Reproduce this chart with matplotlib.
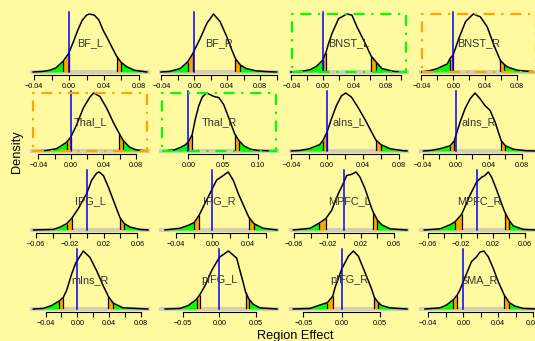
import numpy as np
import matplotlib.pyplot as plt
from matplotlib.patches import Rectangle

plt.rcParams['font.family'] = ['Liberation Sans', 'DejaVu Sans']

regions = ["BF_L", "BF_R", "BNST_L", "BNST_R",
           "Thal_L", "Thal_R", "aIns_L", "aIns_R",
           "IPG_L", "IPG_R", "MPFC_L", "MPFC_R",
           "mIns_R", "pIFG_L", "pIFG_R", "SMA_R"]

# posterior densities: effect values and height relative to the peak
dens_x = {
    "BF_L": [-0.041, -0.030, -0.022, -0.015, -0.0065, -0.0004, 0.005, 0.010, 0.015, 0.020, 0.0235,
             0.029, 0.034, 0.039, 0.045, 0.050, 0.0545, 0.0594, 0.066, 0.075, 0.089],
    "BF_R": [-0.0405, -0.030, -0.017, -0.0078, -0.0022, 0.0072, 0.0153, 0.0233, 0.0313, 0.0394,
             0.045, 0.050, 0.056, 0.063, 0.075, 0.090, 0.100],
    "BNST_L": [-0.0405, -0.028, -0.016, -0.008, -0.0004, 0.0038, 0.007, 0.0115, 0.020, 0.0306,
               0.037, 0.0433, 0.0518, 0.0616, 0.068, 0.075, 0.090, 0.106],
    "BNST_R": [-0.0395, -0.030, -0.020, -0.0075, -0.0042, 0.0, 0.007, 0.0154, 0.025, 0.034,
               0.0425, 0.051, 0.059, 0.064, 0.0675, 0.080, 0.104],
    "Thal_L": [-0.046, -0.030, -0.0177, -0.0053, 0.0, 0.007, 0.0152, 0.0234, 0.028, 0.0358,
               0.044, 0.052, 0.0596, 0.0645, 0.072, 0.080, 0.094],
    "Thal_R": [-0.036, -0.020, -0.010, -0.004, 0.0, 0.0054, 0.010, 0.015, 0.020, 0.026, 0.030,
               0.037, 0.044, 0.051, 0.058, 0.0667, 0.073, 0.080, 0.090, 0.100, 0.127],
    "aIns_L": [-0.040, -0.030, -0.0197, -0.0084, -0.0047, 0.0, 0.0047, 0.0103, 0.016, 0.0208,
               0.0272, 0.0347, 0.0422, 0.0497, 0.0546, 0.0603, 0.0704, 0.085, 0.0895],
    "aIns_R": [-0.039, -0.030, -0.019, -0.0069, -0.002, 0.0, 0.0053, 0.0113, 0.0174, 0.0234,
               0.0295, 0.0356, 0.0416, 0.0477, 0.055, 0.0602, 0.070, 0.085, 0.098],
    "IPG_L": [-0.063, -0.0395, -0.0316, -0.0237, -0.0178, -0.0099, 0.0, 0.0059, 0.0118, 0.0146,
              0.0197, 0.0257, 0.0316, 0.0395, 0.0446, 0.0513, 0.063, 0.0726],
    "IPG_R": [-0.0526, -0.036, -0.0267, -0.020, -0.0144, -0.0081, 0.0, 0.0048, 0.0104, 0.0178,
              0.0233, 0.0289, 0.0363, 0.0407, 0.0463, 0.0567, 0.072],
    "MPFC_L": [-0.061, -0.041, -0.0298, -0.0218, -0.0149, -0.0068, 0.0, 0.0032, 0.0093, 0.0145,
               0.0193, 0.0254, 0.0334, 0.0355, 0.0403, 0.0455, 0.0556, 0.076],
    "MPFC_R": [-0.065, -0.0455, -0.033, -0.0269, -0.0186, -0.0083, 0.0, 0.0062, 0.0103, 0.0145,
               0.0186, 0.0248, 0.0331, 0.0352, 0.0405, 0.0455, 0.058, 0.0748],
    "mIns_R": [-0.0556, -0.043, -0.0324, -0.0227, -0.0177, -0.0135, -0.0072, -0.0017, 0.0076,
               0.016, 0.0244, 0.0328, 0.0391, 0.0455, 0.058, 0.089],
    "pIFG_L": [-0.074, -0.0536, -0.0423, -0.0309, -0.0264, -0.0195, -0.0105, 0.0, 0.0123, 0.0236,
               0.0327, 0.0359, 0.0405, 0.0464, 0.0555, 0.0787],
    "pIFG_R": [-0.063, -0.0413, -0.0304, -0.0187, -0.0117, -0.0087, 0.0, 0.0087, 0.0152, 0.0217,
               0.0304, 0.0391, 0.0426, 0.0478, 0.0522, 0.063, 0.0851],
    "SMA_R": [-0.0438, -0.0267, -0.019, -0.0114, -0.0069, -0.0038, 0.0, 0.0038, 0.0095, 0.0152,
              0.019, 0.0236, 0.0286, 0.0343, 0.040, 0.0469, 0.0526, 0.059, 0.0686, 0.0843],
}
dens_h = {
    "BF_L": [0, 0.01, 0.03, 0.07, 0.19, 0.32, 0.52, 0.72, 0.89, 0.98, 1.0,
             0.98, 0.90, 0.72, 0.55, 0.40, 0.27, 0.17, 0.09, 0.03, 0],
    "BF_R": [0, 0.01, 0.06, 0.18, 0.31, 0.58, 0.84, 1.0, 0.87, 0.61,
             0.40, 0.23, 0.12, 0.06, 0.02, 0.005, 0],
    "BNST_L": [0, 0.01, 0.04, 0.10, 0.20, 0.33, 0.48, 0.66, 0.92, 1.0,
               0.98, 0.78, 0.55, 0.27, 0.17, 0.06, 0.01, 0],
    "BNST_R": [0, 0.02, 0.06, 0.14, 0.23, 0.30, 0.58, 0.87, 1.0, 0.95,
               0.78, 0.46, 0.20, 0.13, 0.09, 0.03, 0],
    "Thal_L": [0, 0.01, 0.04, 0.15, 0.245, 0.45, 0.74, 0.93, 1.0, 0.94,
               0.74, 0.50, 0.30, 0.18, 0.07, 0.02, 0],
    "Thal_R": [0, 0.02, 0.07, 0.11, 0.16, 0.28, 0.55, 0.78, 0.93, 1.0, 0.98,
               0.94, 0.92, 0.80, 0.58, 0.30, 0.18, 0.09, 0.03, 0.01, 0],
    "aIns_L": [0, 0.01, 0.04, 0.11, 0.18, 0.33, 0.55, 0.78, 0.95, 1.0,
               0.93, 0.75, 0.55, 0.33, 0.19, 0.11, 0.04, 0.005, 0],
    "aIns_R": [0, 0.01, 0.04, 0.09, 0.17, 0.26, 0.50, 0.73, 0.90, 1.0,
               0.90, 0.78, 0.70, 0.50, 0.18, 0.09, 0.03, 0.005, 0],
    "IPG_L": [0, 0.01, 0.05, 0.11, 0.20, 0.37, 0.63, 0.86, 0.98, 1.0,
              0.94, 0.74, 0.51, 0.21, 0.11, 0.05, 0.01, 0],
    "IPG_R": [0, 0.03, 0.08, 0.13, 0.26, 0.46, 0.71, 0.86, 0.92, 1.0,
              0.86, 0.63, 0.37, 0.22, 0.11, 0.03, 0],
    "MPFC_L": [0, 0.03, 0.12, 0.20, 0.34, 0.63, 0.83, 0.94, 0.96, 1.0,
               0.91, 0.71, 0.37, 0.30, 0.17, 0.09, 0.02, 0],
    "MPFC_R": [0, 0.02, 0.09, 0.14, 0.27, 0.60, 0.83, 0.91, 0.94, 1.0,
               0.91, 0.69, 0.37, 0.30, 0.16, 0.07, 0.01, 0],
    "mIns_R": [0, 0.01, 0.06, 0.14, 0.20, 0.32, 0.60, 0.80, 1.0,
               0.89, 0.66, 0.40, 0.22, 0.10, 0.02, 0],
    "pIFG_L": [0, 0.01, 0.06, 0.17, 0.25, 0.40, 0.66, 0.89, 1.0, 0.88,
               0.45, 0.29, 0.17, 0.08, 0.02, 0],
    "pIFG_R": [0, 0.01, 0.06, 0.11, 0.22, 0.37, 0.69, 0.91, 1.0, 0.91,
               0.63, 0.34, 0.20, 0.11, 0.06, 0.02, 0],
    "SMA_R": [0, 0.02, 0.07, 0.16, 0.24, 0.33, 0.47, 0.61, 0.82, 0.90,
              0.98, 1.0, 0.90, 0.70, 0.47, 0.24, 0.11, 0.05, 0.01, 0],
}
# 2.5%, 5%, 95% and 97.5% quantiles
quant = {
    "BF_L": [-0.0065, -0.0004, 0.0545, 0.0594],
    "BF_R": [-0.0078, -0.0022, 0.050, 0.056],
    "BNST_L": [-0.0004, 0.0038, 0.0616, 0.068],
    "BNST_R": [-0.0042, 0.0, 0.059, 0.064],
    "Thal_L": [-0.0053, 0.0, 0.0596, 0.0645],
    "Thal_R": [0.0, 0.0054, 0.0667, 0.073],
    "aIns_L": [-0.0047, 0.0, 0.0546, 0.0603],
    "aIns_R": [-0.0069, -0.002, 0.055, 0.0602],
    "IPG_L": [-0.0237, -0.0178, 0.0395, 0.0446],
    "IPG_R": [-0.020, -0.0144, 0.0407, 0.0463],
    "MPFC_L": [-0.0298, -0.0218, 0.0355, 0.0403],
    "MPFC_R": [-0.0269, -0.0186, 0.0352, 0.0405],
    "mIns_R": [-0.0227, -0.0177, 0.0391, 0.0455],
    "pIFG_L": [-0.0309, -0.0264, 0.0359, 0.0405],
    "pIFG_R": [-0.0187, -0.0117, 0.0426, 0.0478],
    "SMA_R": [-0.0114, -0.0069, 0.0469, 0.0526],
}
xlims = {
    "BF_L": (-0.0423, 0.0903), "BF_R": (-0.0405, 0.1005), "BNST_L": (-0.0405, 0.107),
    "BNST_R": (-0.0405, 0.105), "Thal_L": (-0.048, 0.095), "Thal_R": (-0.0396, 0.128),
    "aIns_L": (-0.0405, 0.0895), "aIns_R": (-0.0421, 0.0985), "IPG_L": (-0.0648, 0.0726),
    "IPG_R": (-0.057, 0.072), "MPFC_L": (-0.064, 0.076), "MPFC_R": (-0.069, 0.0748),
    "mIns_R": (-0.0572, 0.0893), "pIFG_L": (-0.0795, 0.0787), "pIFG_R": (-0.0661, 0.0851),
    "SMA_R": (-0.0483, 0.0843),
}
ticks_a = [-0.04, -0.02, 0.0, 0.02, 0.04, 0.06, 0.08]
ticks_b = [-0.04, -0.02, 0.0, 0.02, 0.04, 0.06, 0.08, 0.10]
ticks_c = [-0.06, -0.04, -0.02, 0.0, 0.02, 0.04, 0.06]
ticks_d = [-0.05, 0.0, 0.05]
ticks = {
    "BF_L": ticks_a, "BF_R": ticks_b, "BNST_L": ticks_b, "BNST_R": ticks_a,
    "Thal_L": ticks_a, "Thal_R": [0.0, 0.05, 0.10], "aIns_L": ticks_a, "aIns_R": ticks_a,
    "IPG_L": ticks_c, "IPG_R": [-0.04, -0.02, 0.0, 0.02, 0.04, 0.06], "MPFC_L": ticks_c,
    "MPFC_R": ticks_c, "mIns_R": ticks_a, "pIFG_L": ticks_d, "pIFG_R": ticks_d, "SMA_R": ticks_a,
}
box_col = {"BNST_L": "#00ff00", "BNST_R": "#ffa500", "Thal_L": "#ffa500", "Thal_R": "#00ff00"}

bg = "#fffaa0"
green = "#00ff00"
orange = "#ffa500"

W, H = 535, 341
fig = plt.figure(figsize=(W / 100, H / 100), dpi=100, facecolor=bg)

col_left = [32, 161, 291, 421]
row_base = [72, 151, 230, 309]
pw, ph = 116, 58

for i, name in enumerate(regions):
    r, c = divmod(i, 4)
    ax = fig.add_axes([col_left[c] / W, (H - row_base[r]) / H, pw / W, ph / H])
    ax.patch.set_alpha(0)
    x = np.array(dens_x[name])
    h = np.array(dens_h[name])
    lo, hi = xlims[name]

    # grey zero band
    ax.plot([lo, hi], [0, 0], color="#d3d1b0", lw=3, solid_capstyle="projecting",
            zorder=1, clip_on=False)

    idx = [int(np.argmin(np.abs(x - q))) for q in quant[name]]
    parts = [(0, idx[0], green), (idx[0], idx[1], orange),
             (idx[2], idx[3], orange), (idx[3], len(x) - 1, green)]
    for a, b, col in parts:
        ax.fill_between(x[a:b + 1], 0, h[a:b + 1], color=col, lw=0, zorder=2)
    ax.vlines(x[idx], 0, h[idx], color="black", lw=0.9, zorder=3)
    ax.plot(x, h, color="black", lw=1.1, zorder=3, clip_on=False, solid_joinstyle="round")
    ax.plot([0, 0], [0, 1.04], color="#0000ff", lw=1.1, zorder=4, clip_on=False)

    ax.text(0.5, 0.5, name, transform=ax.transAxes, ha="center", va="center",
            fontsize=7.8, color="#333333", zorder=5)

    if name in box_col:
        ax.add_patch(Rectangle((0.012, 0), 0.976, 1.0, transform=ax.transAxes, fill=False,
                               ec=box_col[name], lw=1.6, ls=(0, (5, 3, 1, 3)),
                               clip_on=False, zorder=5))

    ax.set_xlim(lo, hi)
    ax.set_ylim(0, 1)
    for s in ["top", "left", "right"]:
        ax.spines[s].set_visible(False)
    ax.spines["bottom"].set_position(("outward", 2.2))
    ax.spines["bottom"].set_bounds(ticks[name][0], ticks[name][-1])
    ax.spines["bottom"].set_linewidth(0.8)
    ax.set_yticks([])
    tk = ticks[name]
    step = 1 if len(tk) <= 3 else 2
    labels = [f"{v:.2f}".replace("-", "\u2212") if k % step == 0 else ""
              for k, v in enumerate(tk)]
    ax.set_xticks(tk)
    ax.set_xticklabels(labels)
    ax.tick_params(axis="x", length=3.5, width=0.8, pad=2.2, labelsize=5.2)

fig.text(17 / W, 1 - 152 / H, "Density", rotation=90, ha="center", va="center", fontsize=9.2)
fig.text(295 / W, 1 - 336 / H, "Region Effect", ha="center", va="center", fontsize=9.2)

fig.savefig("out.png", dpi=100, facecolor=bg)
